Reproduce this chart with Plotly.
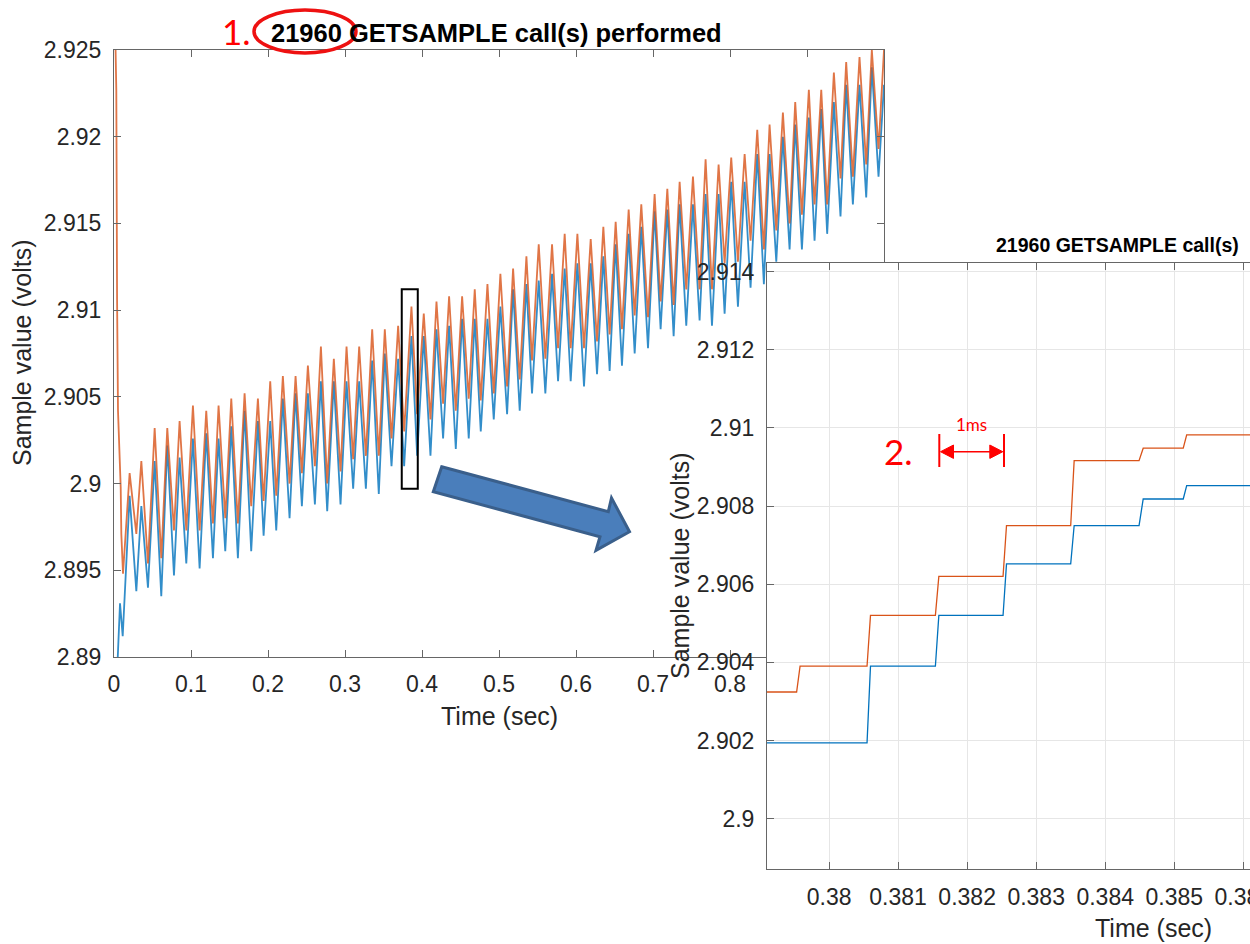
import plotly.graph_objects as go

W, H = 1250, 944

# ---------------- main panel data (time in s, sample value in V) ----------------
orange_start_t = [0.0000, 0.0015, 0.0030, 0.0040, 0.0052, 0.0087, 0.0095, 0.0117]
orange_start_v = [2.9300, 2.9250, 2.9227, 2.9106, 2.9042, 2.8998, 2.8971, 2.8948]
blue_start_t = [0.0030, 0.0078, 0.0113]
blue_start_v = [2.8880, 2.8931, 2.8912]

extrema_t = [
    0.0203, 0.0290, 0.0355, 0.0441, 0.0528, 0.0614, 0.0692, 0.0779, 0.0852, 0.0939,
    0.1025, 0.1112, 0.1198, 0.1285, 0.1358, 0.1445, 0.1523, 0.1609, 0.1696, 0.1782,
    0.1869, 0.1943, 0.2029, 0.2107, 0.2193, 0.2280, 0.2358, 0.2440, 0.2518,
    0.2609, 0.2687, 0.2769, 0.2855, 0.2942, 0.3020, 0.3106, 0.3184, 0.3271, 0.3353,
    0.3439, 0.3517, 0.3604, 0.3690, 0.3768, 0.3863, 0.3937, 0.4023, 0.4110, 0.4188,
    0.4274, 0.4352, 0.4439, 0.4521, 0.4607, 0.4685, 0.4763, 0.4850, 0.4932, 0.5018,
    0.5105, 0.5183,
    0.5269, 0.5356, 0.5429, 0.5516, 0.5602, 0.5689, 0.5767, 0.5853, 0.5931, 0.6018,
    0.6104, 0.6191, 0.6273, 0.6355, 0.6437, 0.6515, 0.6597, 0.6684, 0.6762, 0.6848,
    0.6935, 0.7021, 0.7099, 0.7186, 0.7268, 0.7346, 0.7432, 0.7519, 0.7605, 0.7683,
    0.7766, 0.7852,
    0.7930, 0.8016, 0.8103, 0.8190, 0.8267, 0.8354, 0.8440, 0.8514, 0.8601, 0.8687,
    0.8774, 0.8847, 0.8934, 0.9024, 0.9098, 0.9185, 0.9262, 0.9349, 0.9435, 0.9509,
    0.9596, 0.9682, 0.9769, 0.9842, 0.9929, 1.0000,
]

orange_ext_v = [
    2.9006, 2.8971, 2.9013, 2.8954, 2.9032, 2.8957, 2.9032, 2.8973, 2.9036, 2.8973,
    2.9045, 2.8973, 2.9042, 2.8977, 2.9045, 2.8980, 2.9049, 2.8977, 2.9052, 2.8987,
    2.9049, 2.8990, 2.9059, 2.8993, 2.9062, 2.9000, 2.9062, 2.9006, 2.9068,
    2.9010, 2.9079, 2.9000, 2.9072, 2.9007, 2.9079, 2.9014, 2.9079, 2.9016, 2.9089,
    2.9016, 2.9089, 2.9026, 2.9091, 2.9030, 2.9102, 2.9040, 2.9098, 2.9037, 2.9105,
    2.9046, 2.9108, 2.9042, 2.9108, 2.9049, 2.9112, 2.9048, 2.9115, 2.9052, 2.9121,
    2.9056, 2.9124,
    2.9060, 2.9131, 2.9071, 2.9138, 2.9072, 2.9138, 2.9078, 2.9144, 2.9078, 2.9144,
    2.9078, 2.9141, 2.9082, 2.9148, 2.9086, 2.9151, 2.9089, 2.9158, 2.9097, 2.9161,
    2.9096, 2.9167, 2.9105, 2.9170, 2.9103, 2.9174, 2.9112, 2.9177, 2.9112, 2.9187,
    2.9112, 2.9184,
    2.9127, 2.9188, 2.9128, 2.9190, 2.9140, 2.9204, 2.9135, 2.9207, 2.9146, 2.9214,
    2.9150, 2.9220, 2.9155, 2.9227, 2.9161, 2.9227, 2.9161, 2.9237, 2.9176, 2.9243,
    2.9177, 2.9246, 2.9184, 2.9250, 2.9193, 2.9250,
]

blue_ext_v = [
    2.8993, 2.8938, 2.8987, 2.8940, 2.9013, 2.8935, 2.9022, 2.8947, 2.9015, 2.8954,
    2.9026, 2.8951, 2.9029, 2.8957, 2.9026, 2.8961, 2.9033, 2.8957, 2.9042, 2.8961,
    2.9036, 2.8970, 2.9036, 2.8973, 2.9049, 2.8980, 2.9052, 2.8987, 2.9052,
    2.8988, 2.9059, 2.8984, 2.9059, 2.8988, 2.9059, 2.8997, 2.9059, 2.8997, 2.9071,
    2.8994, 2.9075, 2.9010, 2.9072, 2.9010, 2.9085, 2.9016, 2.9085, 2.9016, 2.9089,
    2.9026, 2.9091, 2.9020, 2.9095, 2.9026, 2.9095, 2.9030, 2.9095, 2.9037, 2.9102,
    2.9040, 2.9112,
    2.9042, 2.9115, 2.9052, 2.9117, 2.9052, 2.9121, 2.9059, 2.9124, 2.9059, 2.9127,
    2.9056, 2.9127, 2.9063, 2.9131, 2.9065, 2.9138, 2.9068, 2.9144, 2.9075, 2.9148,
    2.9078, 2.9157, 2.9089, 2.9158, 2.9085, 2.9161, 2.9091, 2.9161, 2.9094, 2.9167,
    2.9091, 2.9167,
    2.9098, 2.9174, 2.9102, 2.9174, 2.9113, 2.9190, 2.9115, 2.9190, 2.9128, 2.9200,
    2.9135, 2.9207, 2.9135, 2.9211, 2.9140, 2.9216, 2.9144, 2.9220, 2.9154, 2.9230,
    2.9161, 2.9230, 2.9165, 2.9240, 2.9177, 2.9230,
]

main_xticks = [0, 0.1, 0.2, 0.3, 0.4, 0.5, 0.6, 0.7, 0.8, 0.9, 1.0]
main_xtick_text = ["0", "0.1", "0.2", "0.3", "0.4", "0.5", "0.6", "0.7", "0.8", "0.9", "1"]
main_yticks = [2.89, 2.895, 2.9, 2.905, 2.91, 2.915, 2.92, 2.925]
main_ytick_text = ["2.89", "2.895", "2.9", "2.905", "2.91", "2.915", "2.92", "2.925"]

# ---------------- inset data (zoom of 0.379 .. 0.386 s) ----------------
inset_orange_t = [0.3789, 0.37953, 0.37958, 0.38055, 0.38060, 0.38154, 0.38159, 0.38252,
                  0.38257, 0.38350, 0.38355, 0.38449, 0.38455, 0.38513, 0.38518, 0.3875]
inset_orange_v = [2.90324, 2.90324, 2.90390, 2.90390, 2.90520, 2.90520, 2.90620, 2.90620,
                  2.90750, 2.90750, 2.90916, 2.90916, 2.90948, 2.90948, 2.90982, 2.90982]
inset_blue_t = [0.3789, 0.38055, 0.38060, 0.38154, 0.38159, 0.38252, 0.38257, 0.38350,
                0.38355, 0.38449, 0.38455, 0.38513, 0.38518, 0.3875]
inset_blue_v = [2.90194, 2.90194, 2.90390, 2.90390, 2.90520, 2.90520, 2.90652, 2.90652,
                2.90750, 2.90750, 2.90818, 2.90818, 2.90852, 2.90852]

inset_xticks = [0.380, 0.381, 0.382, 0.383, 0.384, 0.385, 0.386]
inset_xtick_text = ["0.38", "0.381", "0.382", "0.383", "0.384", "0.385", "0.386"]
inset_yticks = [2.900, 2.902, 2.904, 2.906, 2.908, 2.910, 2.912, 2.914]
inset_ytick_text = ["2.9", "2.902", "2.904", "2.906", "2.908", "2.91", "2.912", "2.914"]

title_text = "21960 GETSAMPLE call(s) performed"
inset_title_text = "21960 GETSAMPLE call(s)"
ylabel = "Sample value (volts)"
xlabel = "Time (sec)"

BLUE = "#0072BD"
ORANGE = "#D95319"
SANS = "Liberation Sans, Arial, sans-serif"
TICKFONT = dict(family=SANS, size=23, color="#262626")
LABELFONT = dict(family=SANS, size=25, color="#262626")
NOTEFONT = "Lato, Open Sans, sans-serif"


def px(x, y):
    """pixel position on the page -> paper fraction"""
    return x / W, 1 - y / H


fig = go.Figure()

fig.add_trace(go.Scatter(x=blue_start_t + extrema_t, y=blue_start_v + blue_ext_v,
                         mode="lines", line=dict(color=BLUE, width=1.8), opacity=0.8,
                         xaxis="x", yaxis="y", showlegend=False))
fig.add_trace(go.Scatter(x=orange_start_t + extrema_t, y=orange_start_v + orange_ext_v,
                         mode="lines", line=dict(color=ORANGE, width=1.8), opacity=0.8,
                         xaxis="x", yaxis="y", showlegend=False))

fig.add_trace(go.Scatter(x=inset_blue_t, y=inset_blue_v, mode="lines",
                         line=dict(color=BLUE, width=1.3),
                         xaxis="x2", yaxis="y2", showlegend=False))
fig.add_trace(go.Scatter(x=inset_orange_t, y=inset_orange_v, mode="lines",
                         line=dict(color=ORANGE, width=1.3),
                         xaxis="x2", yaxis="y2", showlegend=False))

axis_common = dict(showline=True, linecolor="#666666", linewidth=1, ticks="inside",
                   tickcolor="#666666", ticklen=7, zeroline=False, tickfont=TICKFONT,
                   automargin=False)

mx0, _ = px(114, 0)
mx1, _ = px(884, 0)
_, my0 = px(0, 657)
_, my1 = px(0, 50)
ix0, _ = px(767, 0)
_, iy0 = px(0, 869)
_, iy1 = px(0, 263)

fig.update_layout(
    width=W, height=H, autosize=False,
    margin=dict(l=0, r=0, t=0, b=0),
    paper_bgcolor="white", plot_bgcolor="white",
    xaxis=dict(domain=[mx0, mx1], range=[0, 1.0], tickvals=main_xticks,
               ticktext=main_xtick_text, mirror="ticks", showgrid=False,
               ticklabelstandoff=6, anchor="y", **axis_common),
    yaxis=dict(domain=[my0, my1], range=[2.89, 2.925], tickvals=main_yticks,
               ticktext=main_ytick_text, mirror="ticks", showgrid=False,
               ticklabelstandoff=7, anchor="x", **axis_common),
    xaxis2=dict(domain=[ix0, 1.0], range=[0.379101, 0.386097], tickvals=inset_xticks,
                ticktext=inset_xtick_text, mirror="ticks", showgrid=True,
                gridcolor="#e6e6e6", gridwidth=1, ticklabelstandoff=7,
                ticklabeloverflow="allow", anchor="y2", **axis_common),
    yaxis2=dict(domain=[iy0, iy1], range=[2.89871, 2.91422], tickvals=inset_yticks,
                ticktext=inset_ytick_text, mirror=False, showgrid=True,
                gridcolor="#e6e6e6", gridwidth=1, ticklabelstandoff=7,
                anchor="x2", **axis_common),
)

annotations = []
# main title
tx, ty = px(496, 33)
annotations.append(dict(x=tx, y=ty, xref="paper", yref="paper", text="<b>" + title_text + "</b>",
                        showarrow=False, xanchor="center", yanchor="middle",
                        font=dict(family=SANS, size=25.5, color="black")))
# main axis titles
tx, ty = px(499, 716)
annotations.append(dict(x=tx, y=ty, xref="paper", yref="paper", text=xlabel, showarrow=False,
                        xanchor="center", yanchor="middle", font=LABELFONT))
tx, ty = px(22, 353)
annotations.append(dict(x=tx, y=ty, xref="paper", yref="paper", text=ylabel, showarrow=False,
                        textangle=-90, xanchor="center", yanchor="middle", font=LABELFONT))
# inset titles
tx, ty = px(1241, 245)
annotations.append(dict(x=tx, y=ty, xref="paper", yref="paper", text="<b>" + inset_title_text + "</b>",
                        showarrow=False, xanchor="right", yanchor="middle",
                        font=dict(family=SANS, size=19.5, color="black")))
tx, ty = px(1153, 928)
annotations.append(dict(x=tx, y=ty, xref="paper", yref="paper", text=xlabel, showarrow=False,
                        xanchor="center", yanchor="middle", font=LABELFONT))
tx, ty = px(680, 566)
annotations.append(dict(x=tx, y=ty, xref="paper", yref="paper", text=ylabel, showarrow=False,
                        textangle=-90, xanchor="center", yanchor="middle", font=LABELFONT))
# red notes
tx, ty = px(236, 31)
annotations.append(dict(x=tx, y=ty, xref="paper", yref="paper", text="1.", showarrow=False,
                        xanchor="center", yanchor="middle",
                        font=dict(family=NOTEFONT, size=35, color="#ff0000")))
tx, ty = px(899, 451)
annotations.append(dict(x=tx, y=ty, xref="paper", yref="paper", text="2.", showarrow=False,
                        xanchor="center", yanchor="middle",
                        font=dict(family=NOTEFONT, size=35, color="#ff0000")))
tx, ty = px(971, 424)
annotations.append(dict(x=tx, y=ty, xref="paper", yref="paper", text="1ms", showarrow=False,
                        xanchor="center", yanchor="middle",
                        font=dict(family=NOTEFONT, size=17, color="#ff0000")))
fig.update_layout(annotations=annotations)

shapes = []
# zoom window rectangle on main axes
shapes.append(dict(type="rect", xref="x", yref="y", x0=0.3737, x1=0.3945, y0=2.8997, y1=2.9112,
                   line=dict(color="black", width=2), fillcolor="rgba(0,0,0,0)"))
# red ellipse around the call count
ex0, ey0 = px(254, 53)
ex1, ey1 = px(356, 10)
shapes.append(dict(type="circle", xref="paper", yref="paper", x0=ex0, x1=ex1, y0=ey0, y1=ey1,
                   line=dict(color="#ee1111", width=3.5)))


def path(points):
    s = ""
    for i, (x, y) in enumerate(points):
        fx, fy = px(x, y)
        s += ("M" if i == 0 else "L") + f"{fx:.5f},{fy:.5f} "
    return s + "Z"


# blue block arrow
arrow_pts = [(441.7, 466.7), (608.3, 511.7), (611.5, 498.0), (629.5, 531.7),
             (596.0, 550.3), (600.0, 536.7), (433.3, 491.7)]
shapes.append(dict(type="path", xref="paper", yref="paper", path=path(arrow_pts),
                   fillcolor="#4a7ebb", line=dict(color="#3a5f8b", width=3), layer="above"))

# 1 ms dimension marker
for xv in (939.3, 1004.0):
    a = px(xv, 434)
    b = px(xv, 467)
    shapes.append(dict(type="line", xref="paper", yref="paper", x0=a[0], y0=a[1], x1=b[0], y1=b[1],
                       line=dict(color="#ff0000", width=2)))
a = px(945, 451.7)
b = px(998, 451.7)
shapes.append(dict(type="line", xref="paper", yref="paper", x0=a[0], y0=a[1], x1=b[0], y1=b[1],
                   line=dict(color="#ff0000", width=1.5)))
shapes.append(dict(type="path", xref="paper", yref="paper",
                   path=path([(940.5, 451.7), (953.5, 445.0), (953.5, 458.4)]),
                   fillcolor="#ff0000", line=dict(color="#ff0000", width=1)))
shapes.append(dict(type="path", xref="paper", yref="paper",
                   path=path([(1002.8, 451.7), (989.8, 445.0), (989.8, 458.4)]),
                   fillcolor="#ff0000", line=dict(color="#ff0000", width=1)))
fig.update_layout(shapes=shapes)

fig.write_html(
    "out.html",
    config={"displayModeBar": False},
    post_script="document.body.style.margin='0px';document.body.style.overflow='hidden';",
)
